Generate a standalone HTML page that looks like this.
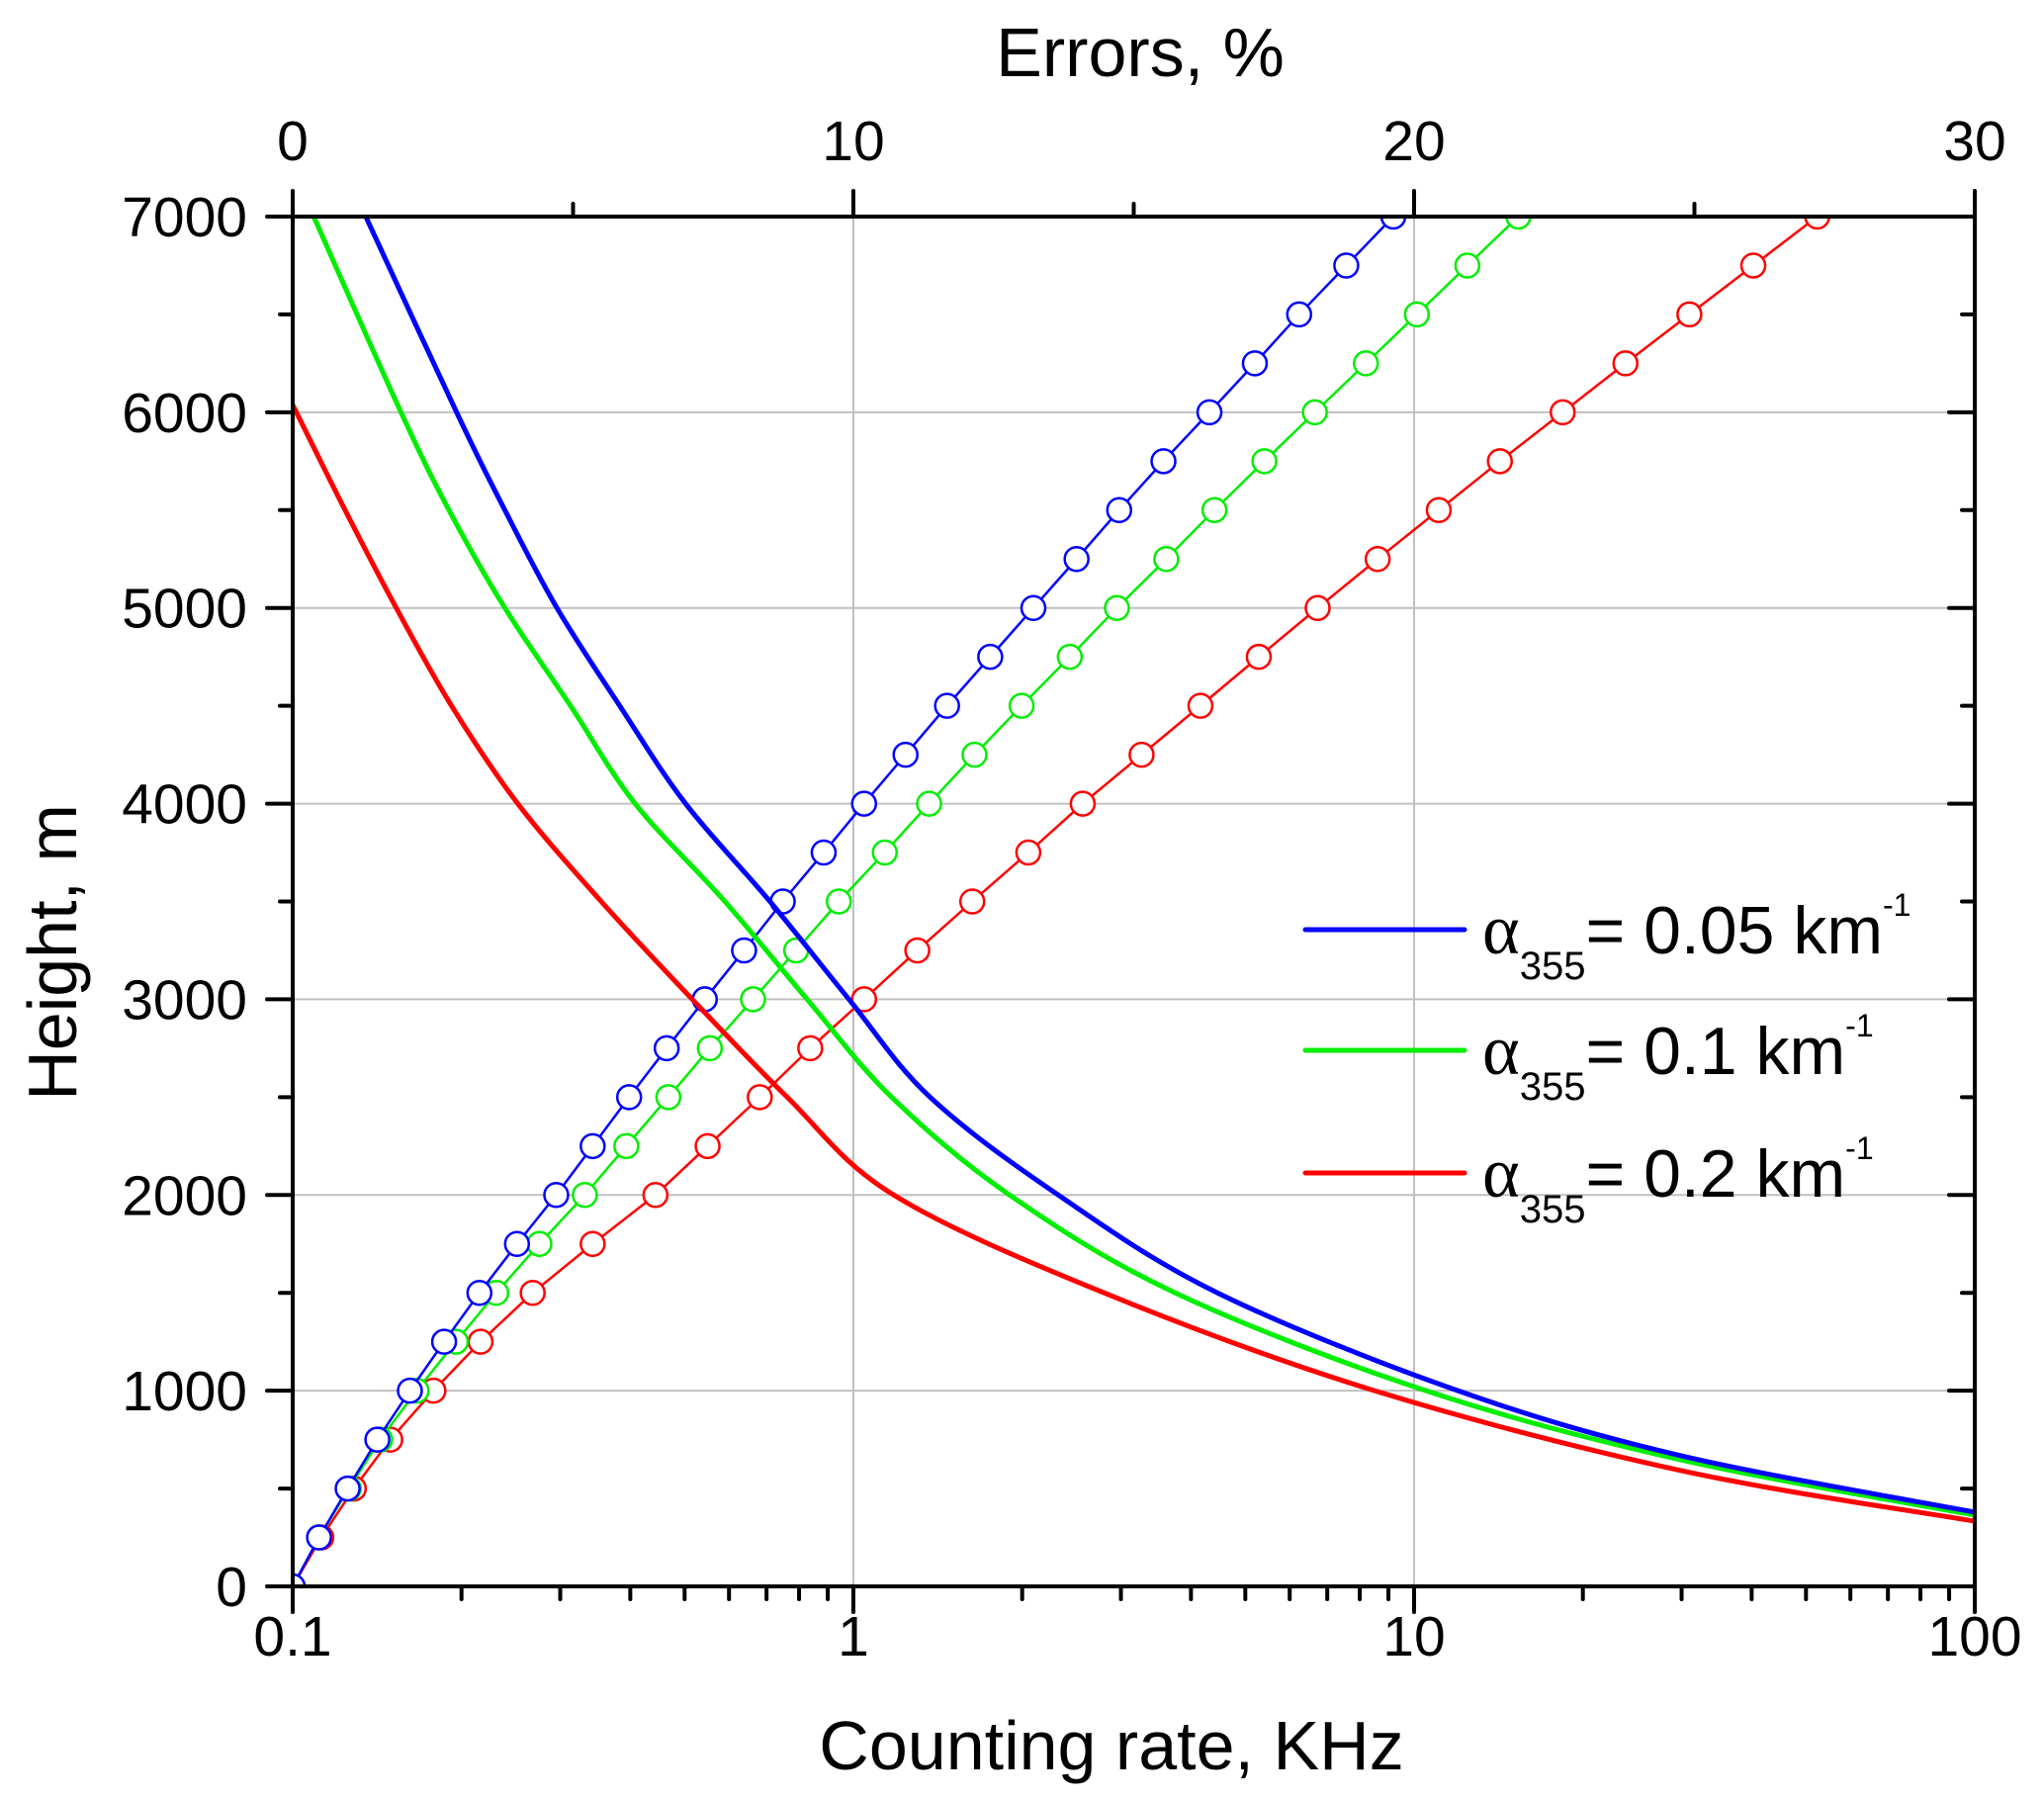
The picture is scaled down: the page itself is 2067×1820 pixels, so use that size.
<!DOCTYPE html>
<html><head><meta charset="utf-8"><style>
html,body{margin:0;padding:0;background:#fff}
svg{display:block}
text{font-family:"Liberation Sans",sans-serif;fill:#000}
</style></head><body>
<svg id="chart" width="2067" height="1820" viewBox="0 0 2067 1820" xmlns="http://www.w3.org/2000/svg">
<defs><clipPath id="plotclip"><rect x="296" y="219" width="1701" height="1385"/></clipPath></defs>
<g id="grid"></g>
<g id="series" clip-path="url(#plotclip)"></g>
<g id="axes"></g>
<text x="1124" y="1789" font-size="70" text-anchor="middle">Counting rate, KHz</text>
<text x="1153" y="77" font-size="70" text-anchor="middle">Errors, %</text>
<text transform="translate(77,963) rotate(-90)" font-size="70" text-anchor="middle">Height, m</text>
<g id="legend"></g>
</svg>
<script>
// ---- data ----
const blueHeights = [7000,6000,5500,5000,4500,4000,3500,3000,2500,2000,1500,1000,667,379];
const rateBlue    = [0.135,0.196,0.239,0.296,0.383,0.502,0.71,0.982,1.37,2.32,4.46,11.97,30,100];
const greenHeights = [7000,6000,5500,5000,4500,4000,3500,3000,2500,2000,1500,1000,646,364];
const rateGreen    = [0.109,0.156,0.190,0.239,0.313,0.408,0.59,0.827,1.17,1.90,3.75,10.5,30,100];
const redHeights = [6038,5500,5000,4500,4000,3500,3000,2500,2000,1500,1000,591,333];
const rateRed    = [0.1,0.124,0.153,0.192,0.252,0.355,0.516,0.762,1.18,2.8,8.5,30,100];
const errHeights = [0,250,500,750,1000,1250,1500,1750,2000,2250,2500,2750,3000,3250,3500,3750,4000,4250,4500,4750,5000,5250,5500,5750,6000,6250,6500,6750,7000];
const errBlue  = [0,0.47,0.98,1.51,2.09,2.70,3.33,4.00,4.70,5.35,6.00,6.67,7.35,8.05,8.74,9.47,10.19,10.93,11.67,12.44,13.21,13.98,14.74,15.53,16.35,17.16,17.95,18.79,19.63];
const errGreen = [0,0.47,1.00,1.56,2.21,2.91,3.63,4.40,5.21,5.95,6.70,7.44,8.21,8.98,9.74,10.56,11.35,12.16,13.00,13.86,14.70,15.58,16.44,17.33,18.23,19.14,20.05,20.95,21.86];
const errRed   = [0,0.51,1.09,1.74,2.51,3.35,4.28,5.35,6.47,7.40,8.33,9.23,10.19,11.14,12.12,13.12,14.09,15.14,16.19,17.23,18.28,19.35,20.44,21.53,22.65,23.77,24.91,26.05,27.19];
const yTicks = [0,1000,2000,3000,4000,5000,6000,7000];
const xTickLabels = ["0.1","1","10","100"];
const topTicks = [0,10,20,30];
const legendLabels = ["0.05","0.1","0.2"];

// ---- scales ----
const L=296,R=1997,T=219,B=1604;
const xs = v => L + (R-L)/3*Math.log10(v/0.1);
const ys = v => B - (B-T)*v/7000;
const xe = v => L + (R-L)*v/30;
const NS="http://www.w3.org/2000/svg";
function mk(tag,attrs,parent){const e=document.createElementNS(NS,tag);for(const k in attrs)e.setAttribute(k,attrs[k]);parent.appendChild(e);return e;}
function smooth(pts){
  let d=`M${pts[0][0]},${pts[0][1]}`;
  for(let i=0;i<pts.length-1;i++){
    const p0=pts[Math.max(0,i-1)],p1=pts[i],p2=pts[i+1],p3=pts[Math.min(pts.length-1,i+2)];
    const c1=[p1[0]+(p2[0]-p0[0])/6,p1[1]+(p2[1]-p0[1])/6];
    const c2=[p2[0]-(p3[0]-p1[0])/6,p2[1]-(p3[1]-p1[1])/6];
    d+=` C${c1[0]},${c1[1]} ${c2[0]},${c2[1]} ${p2[0]},${p2[1]}`;
  }
  return d;
}
const grid=document.getElementById('grid'),ser=document.getElementById('series'),ax=document.getElementById('axes'),leg=document.getElementById('legend');
[1,10].forEach(v=>{const l=mk('line',{x1:xs(v),x2:xs(v),y1:T,y2:B,stroke:'#c0c0c0','stroke-width':2},grid);

});
yTicks.slice(1,-1).forEach(v=>{const l=mk('line',{x1:L,x2:R,y1:ys(v),y2:ys(v),stroke:'#c0c0c0','stroke-width':2},grid);

});
const colors={blue:'#0000ff',green:'#00ee00',red:'#ff0000'};
function rateCurve(hs,vals,c,name){
  const p=mk('path',{d:smooth(hs.map((h,i)=>[xs(vals[i]),ys(h)])),fill:'none',stroke:c,'stroke-width':5,'stroke-linejoin':'round'},ser);
  
  
}
function errCurve(vals,c,name){
  const pts=errHeights.map((h,i)=>[xe(vals[i]),ys(h)]);
  const p=mk('polyline',{points:pts.map(q=>q.join(',')).join(' '),fill:'none',stroke:c,'stroke-width':2.5},ser);
  
  
  pts.forEach(q=>{const m=mk('circle',{cx:q[0],cy:q[1],r:12,fill:'#fff',stroke:c,'stroke-width':2.5},ser);
  
  });
}
errCurve(errRed,colors.red,'error-curve-0.2');
errCurve(errGreen,colors.green,'error-curve-0.1');
errCurve(errBlue,colors.blue,'error-curve-0.05');
rateCurve(redHeights,rateRed,colors.red,'rate-curve-0.2');
rateCurve(greenHeights,rateGreen,colors.green,'rate-curve-0.1');
rateCurve(blueHeights,rateBlue,colors.blue,'rate-curve-0.05');
const fr=mk('rect',{x:L,y:T,width:R-L,height:B-T,fill:'none',stroke:'#000','stroke-width':4},ax);


function tk(x1,y1,x2,y2){const l=mk('line',{x1,y1,x2,y2,stroke:'#000','stroke-width':4,'stroke-linecap':'round'},ax);

}
function lbl(x,y,t,anchor,name){const e=mk('text',{x,y,'font-size':57,'text-anchor':anchor},ax);e.textContent=t;

}
for(let v=0;v<=7000;v+=500){const maj=v%1000===0;const len=maj?26:13;
  tk(L,ys(v),L-len,ys(v));tk(R,ys(v),R-len,ys(v));}
yTicks.forEach(v=>lbl(250,ys(v)+20,String(v),'end','y-tick-label'));
for(let d=0;d<3;d++){for(let m=1;m<=9;m++){const v=0.1*Math.pow(10,d)*m;tk(xs(v),B,xs(v),B+(m===1?26:13));}}
tk(xs(100),B,xs(100),B+26);
xTickLabels.forEach((t,i)=>lbl(xs(0.1*Math.pow(10,i)),1674,t,'middle','x-tick-label'));
for(let v=0;v<=30;v+=5){tk(xe(v),T,xe(v),T-(v%10===0?26:13));}
topTicks.forEach(v=>lbl(xe(v),162,String(v),'middle','top-tick-label'));
const lc=[colors.blue,colors.green,colors.red];const ly=[940,1062,1186];
legendLabels.forEach((t,i)=>{
  const g=mk('g',{},leg);
  
  
  mk('line',{x1:1320,x2:1481,y1:ly[i],y2:ly[i],stroke:lc[i],'stroke-width':5,'stroke-linecap':'round'},g);
  const tx=mk('text',{x:1499,y:ly[i]+24,'font-size':68},g);
  const a=mk('tspan',{'font-family':'Liberation Serif, serif','font-size':72},tx);a.textContent='α';
  const s=mk('tspan',{'font-size':40,dy:26},tx);s.textContent='355';
  const r=mk('tspan',{dy:-26},tx);r.textContent='= '+t+' km';
  const sp=mk('tspan',{'font-size':32,dy:-38},tx);sp.textContent='-1';
});
</script>
</body></html>
